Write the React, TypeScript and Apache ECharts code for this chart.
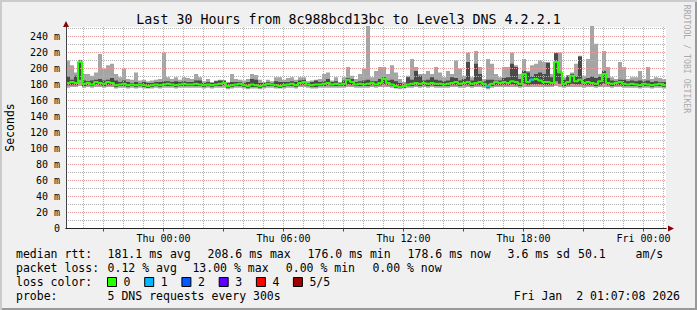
import React, { useEffect, useRef } from 'react';
import * as echarts from 'echarts';

const MONO = '"DejaVu Sans Mono", monospace';

const titleText = 'Last 30 Hours from 8c988bcd13bc to Level3 DNS 4.2.2.1';
const yAxisName = 'Seconds';
const watermarkText = 'RRDTOOL / TOBI OETIKER';

// hours relative to Thu 00:00; first bucket starts Wed 19:07:30, 12-minute buckets
const startHour = -4.875;
const bucketHours = 0.2;

const xLabelValues = [0, 6, 12, 18, 24];
const xLabelTexts = ['Thu 00:00', 'Thu 06:00', 'Thu 12:00', 'Thu 18:00', 'Fri 00:00'];
const yLabelValues = [0, 20, 40, 60, 80, 100, 120, 140, 160, 180, 200, 220, 240];
const yLabelTexts = ['0', '20 m', '40 m', '60 m', '80 m', '100 m', '120 m', '140 m', '160 m', '180 m', '200 m', '220 m', '240 m'];

// ms, one value per 12-minute bucket
const maxRtt = [
  210, 204, 195, 211, 193, 193, 191, 195, 218, 200,
  204, 206, 193, 189, 200, 187, 186, 195, 185, 186,
  184, 185, 186, 187, 220, 189, 187, 189, 186, 189,
  188, 187, 193, 189, 184, 187, 183, 185, 186, 185,
  183, 193, 187, 186, 185, 187, 193, 192, 186, 183,
  186, 184, 189, 189, 186, 188, 189, 186, 189, 189,
  184, 185, 186, 187, 193, 195, 185, 189, 183, 189,
  202, 191, 187, 193, 200, 253, 189, 197, 202, 202,
  193, 204, 195, 187, 183, 191, 212, 202, 193, 193,
  197, 193, 202, 195, 189, 197, 193, 210, 200, 191,
  220, 189, 222, 202, 187, 212, 206, 193, 189, 202,
  202, 220, 204, 193, 212, 197, 204, 206, 210, 208,
  208, 193, 220, 220, 189, 192, 195, 206, 216, 191,
  212, 253, 231, 193, 222, 202, 189, 187, 208, 202,
  187, 189, 189, 197, 187, 202, 187, 189, 188, 187,
];
const p4Rtt = [
  190, 186, 191, 210, 185, 184, 185, 186, 187, 185,
  186, 188, 185, 183, 185, 183, 182, 183, 182, 183,
  182, 182, 183, 183, 184, 184, 183, 184, 183, 184,
  183, 183, 185, 185, 182, 183, 182, 184, 185, 185,
  182, 183, 183, 183, 182, 183, 187, 186, 182, 182,
  183, 182, 184, 183, 183, 183, 184, 183, 185, 186,
  182, 183, 185, 183, 184, 187, 183, 184, 182, 185,
  188, 187, 183, 184, 185, 186, 184, 184, 187, 189,
  185, 186, 184, 182, 181, 189, 186, 197, 191, 185,
  186, 189, 186, 185, 184, 185, 189, 188, 185, 187,
  208, 185, 206, 193, 184, 186, 186, 185, 185, 188,
  189, 206, 202, 187, 197, 195, 190, 193, 195, 193,
  207, 189, 219, 196, 186, 191, 193, 190, 215, 187,
  188, 190, 188, 190, 197, 188, 185, 184, 186, 186,
  184, 185, 184, 185, 184, 185, 183, 184, 183, 183,
];
const medianRtt = [
  182, 183, 182, 208, 181, 182, 180, 183, 182, 181,
  183, 182, 179, 180, 181, 179, 180, 179, 180, 179,
  178, 179, 180, 179, 180, 181, 180, 179, 180, 181,
  180, 180, 181, 180, 179, 180, 179, 180, 181, 182,
  178, 179, 180, 181, 179, 178, 180, 179, 178, 179,
  181, 180, 179, 178, 179, 180, 181, 179, 182, 183,
  180, 179, 180, 180, 181, 182, 180, 181, 180, 181,
  186, 183, 180, 181, 180, 181, 182, 180, 182, 187,
  182, 180, 178, 177, 178, 180, 181, 182, 181, 182,
  181, 182, 181, 181, 180, 181, 182, 183, 181, 182,
  183, 181, 182, 183, 181, 178, 181, 183, 182, 183,
  182, 184, 183, 181, 193, 183, 186, 187, 185, 183,
  183, 182, 208, 195, 181, 183, 191, 184, 186, 182,
  183, 182, 181, 184, 193, 182, 181, 182, 183, 181,
  180, 181, 180, 179, 181, 180, 179, 180, 181, 179,
];
const p2Rtt = [
  179, 179, 179, 186, 178, 179, 178, 180, 179, 178,
  179, 179, 177, 178, 178, 177, 178, 177, 178, 177,
  176, 177, 178, 177, 178, 178, 178, 177, 178, 178,
  178, 178, 178, 178, 177, 178, 177, 178, 178, 179,
  176, 177, 178, 178, 177, 176, 177, 177, 176, 177,
  178, 178, 177, 176, 177, 178, 178, 177, 179, 179,
  178, 177, 177, 178, 178, 179, 178, 178, 178, 178,
  180, 179, 178, 178, 178, 178, 179, 178, 179, 180,
  179, 178, 176, 176, 176, 178, 178, 179, 178, 179,
  178, 179, 178, 178, 178, 178, 179, 179, 178, 179,
  179, 178, 179, 179, 178, 176, 178, 179, 179, 179,
  179, 180, 179, 178, 181, 179, 180, 180, 180, 179,
  179, 179, 184, 181, 178, 179, 181, 180, 180, 179,
  179, 179, 178, 179, 181, 179, 178, 179, 179, 178,
  178, 178, 178, 177, 178, 178, 177, 178, 178, 177,
];
const minRtt = [
  176, 177, 177, 178, 176, 177, 176, 177, 177, 176,
  177, 177, 175, 176, 176, 175, 176, 175, 176, 175,
  175, 175, 176, 175, 176, 176, 176, 175, 176, 176,
  176, 176, 176, 176, 175, 176, 175, 176, 176, 176,
  174, 175, 176, 176, 175, 174, 175, 175, 174, 175,
  176, 176, 175, 175, 175, 176, 176, 175, 177, 177,
  176, 175, 175, 176, 176, 176, 176, 176, 176, 176,
  177, 177, 176, 176, 176, 176, 177, 176, 177, 177,
  177, 176, 175, 174, 175, 176, 176, 177, 176, 177,
  176, 177, 176, 176, 176, 176, 177, 177, 176, 176,
  177, 176, 177, 177, 176, 174, 176, 177, 177, 177,
  177, 177, 177, 176, 177, 177, 177, 177, 177, 177,
  177, 177, 178, 177, 176, 177, 177, 177, 177, 176,
  177, 177, 176, 177, 177, 177, 176, 177, 177, 176,
  176, 176, 176, 175, 176, 176, 175, 176, 176, 175,
];
// buckets with lost pings, and how many were lost
const lossBuckets = [105, 116];
const lossCounts = [1, 1];

const lossLabels = ['0', '1', '2', '3', '4', '5/5'];
const lossColors = ['#26ff00', '#00b8ff', '#0059ff', '#5e00ff', '#ff0000', '#a10000'];

const rttLabel = 'median rtt:';
const rttStats = ['181.1 ms avg', '208.6 ms max', '176.0 ms min', '178.6 ms now', '3.6 ms sd', '50.1', 'am/s'];
const lossLabel = 'packet loss:';
const lossStats = ['0.12 % avg', '13.00 % max', '0.00 % min', '0.00 % now'];
const lossColorLabel = 'loss color:';
const probeLabel = 'probe:';
const probeText = '5 DNS requests every 300s';
const stampText = 'Fri Jan  2 01:07:08 2026';

// layout (pixels)
const L = {
  gridLeft: 66,
  gridRight: 31,
  gridTop: 27,
  gridBottom: 81.5,
  rowY: [254.3, 268.3, 282.3, 296.3],
  labelX: 16,
  rttX: [107.6, 207.6, 307.6, 407.6, 507.6, 578, 635.6],
  lossX: [107.6, 192.4, 285.8, 372.4],
  boxX: [107.5, 144.7, 181.9, 219.2, 256.4, 293.4],
  stampRight: 680,
};

export default function App() {
  const ref = useRef<HTMLDivElement>(null);

  useEffect(() => {
    if (!ref.current) return;
    const chart = echarts.init(ref.current, undefined, { renderer: 'svg' });

    const n = maxRtt.length;
    const endHour = startHour + bucketHours * n;
    const plotHeight = 310 - L.gridTop - L.gridBottom;
    const yMax = plotHeight / 0.8;
    const xAt = (i: number) => startHour + bucketHours * i;
    const stepped = (vals: number[]) =>
      vals.map((v, i) => [xAt(i), v]).concat([[endHour, vals[n - 1]]]);

    const minorColor = '#b0b0b0';
    const majorColor = '#e29a9a';
    const dotted = (color: string) => ({ color, type: [1, 1], width: 1 });
    const hLine = (v: number, color: string) => [
      { coord: [startHour, v], lineStyle: dotted(color) },
      { coord: [endHour, v] },
    ];
    const hGrid: any[] = [];
    for (let v = 10; v < yMax; v += 20) hGrid.push(hLine(v, minorColor));
    for (let v = 20; v < yMax; v += 20) hGrid.push(hLine(v, majorColor));

    const majorHours: number[] = [];
    const gridHours: number[][] = [];
    for (let h = Math.ceil(startHour); h <= endHour; h++) {
      const isMajor = h % 3 === 0 ? 1 : 0;
      if (isMajor) majorHours.push(h);
      gridHours.push([h, isMajor]);
    }

    const common = {
      type: 'line',
      step: 'end',
      symbol: 'none',
      showSymbol: false,
      silent: true,
      animation: false,
      xAxisIndex: 0,
      yAxisIndex: 0,
    };
    const area = (name: string, vals: number[], color: string, z: number) => ({
      ...common,
      name,
      z,
      data: stepped(vals),
      lineStyle: { opacity: 0 },
      areaStyle: { color, opacity: 1, origin: 'start' },
    });

    const text = (t: string, x: number, y: number, extra: any = {}) => ({
      type: 'text',
      x,
      y,
      silent: true,
      style: {
        text: t,
        fill: '#000',
        fontFamily: MONO,
        fontSize: 11.5,
        align: 'left',
        verticalAlign: 'middle',
        ...extra,
      },
    });

    const graphics: any[] = [
      text(titleText, 348.5, 19.3, { fontSize: 13.3, align: 'center' }),
      { ...text(yAxisName, 10, 127.5, { align: 'center' }), rotation: Math.PI / 2 },
      { ...text(watermarkText, 686.5, 59, { align: 'center', fontSize: 8.2, fill: '#aaaaaa' }), rotation: -Math.PI / 2 },
      text(rttLabel, L.labelX, L.rowY[0]),
      ...rttStats.map((s, i) => text(s, L.rttX[i], L.rowY[0])),
      text(lossLabel, L.labelX, L.rowY[1]),
      ...lossStats.map((s, i) => text(s, L.lossX[i], L.rowY[1])),
      text(lossColorLabel, L.labelX, L.rowY[2]),
      ...lossLabels.map((s, i) => ({
        type: 'rect',
        silent: true,
        shape: { x: L.boxX[i], y: L.rowY[2] - 4.8, width: 9, height: 9 },
        style: { fill: lossColors[i], stroke: '#000', lineWidth: 1 },
      })),
      ...lossLabels.map((s, i) => text(s, L.boxX[i] + 16, L.rowY[2])),
      text(probeLabel, L.labelX, L.rowY[3]),
      text(probeText, L.rttX[0], L.rowY[3]),
      text(stampText, L.stampRight, L.rowY[3], { align: 'right' }),
    ];

    chart.setOption({
      animation: false,
      backgroundColor: 'transparent',
      grid: {
        left: L.gridLeft,
        right: L.gridRight,
        top: L.gridTop,
        bottom: L.gridBottom,
        show: true,
        backgroundColor: '#ffffff',
        borderWidth: 0,
        containLabel: false,
        outerBoundsMode: 'none',
      },
      xAxis: [
        {
          type: 'value',
          min: startHour,
          max: endHour,
          position: 'bottom',
          z: 20,
          axisLine: { show: true, onZero: false, lineStyle: { color: '#222', width: 1 } },
          axisTick: { show: true, customValues: majorHours, length: 3, lineStyle: { color: '#ff0000' } },
          axisLabel: {
            customValues: xLabelValues,
            formatter: (v: number) => xLabelTexts[xLabelValues.indexOf(v)] ?? '',
            fontFamily: MONO,
            fontSize: 10,
            color: '#000',
            margin: 5,
          },
          splitLine: { show: false },
        },
        {
          type: 'value',
          min: startHour,
          max: endHour,
          position: 'bottom',
          z: 19,
          axisLine: {
            show: true,
            onZero: false,
            symbol: ['none', 'triangle'],
            symbolSize: [6, 6],
            symbolOffset: [0, 5],
            lineStyle: { color: '#8b0000' },
          },
          axisTick: { show: false },
          axisLabel: { show: false },
          splitLine: { show: false },
        },
      ],
      yAxis: [
        {
          type: 'value',
          min: 0,
          max: yMax,
          position: 'left',
          z: 20,
          axisLine: { show: true, onZero: false, lineStyle: { color: '#444', width: 1 } },
          axisTick: { show: false },
          axisLabel: {
            customValues: yLabelValues,
            formatter: (v: number) => yLabelTexts[yLabelValues.indexOf(v)] ?? '',
            fontFamily: MONO,
            fontSize: 10,
            color: '#000',
            margin: 6,
          },
          splitLine: { show: false },
        },
        {
          type: 'value',
          min: 0,
          max: yMax,
          position: 'left',
          z: 19,
          axisLine: {
            show: true,
            onZero: false,
            symbol: ['none', 'triangle'],
            symbolSize: [6, 6],
            symbolOffset: [0, 3],
            lineStyle: { color: '#8b0000' },
          },
          axisTick: { show: false },
          axisLabel: { show: false },
          splitLine: { show: false },
        },
      ],
      series: [
        area('max', maxRtt, '#a5a5a5', 2),
        area('p4', p4Rtt, '#4a4a4a', 3),
        area('p2', p2Rtt, '#a5a5a5', 4),
        area('min', minRtt, '#ffffff', 5),
        {
          ...common,
          name: 'hgrid',
          z: 10,
          data: stepped(minRtt),
          lineStyle: { opacity: 0 },
          markLine: {
            z: 10,
            silent: true,
            animation: false,
            symbol: ['none', 'none'],
            label: { show: false },
            emphasis: { disabled: true },
            data: hGrid,
          },
        },
        {
          type: 'custom',
          name: 'vgrid',
          z: 11,
          silent: true,
          animation: false,
          xAxisIndex: 0,
          yAxisIndex: 0,
          data: gridHours,
          encode: { x: 0 },
          renderItem: (params: any, api: any) => {
            const h = api.value(0);
            const bottom = api.coord([h, 0]);
            const top = api.coord([h, yMax]);
            const px = Math.floor(bottom[0]);
            const color = api.value(1) ? majorColor : minorColor;
            const children: any[] = [];
            for (let y = Math.ceil(top[1]); y < bottom[1] - 1; y += 2) {
              children.push({
                type: 'rect',
                silent: true,
                shape: { x: px, y, width: 1, height: 1 },
                style: { fill: color },
              });
            }
            return { type: 'group', children };
          },
        },
        {
          ...common,
          name: 'median',
          z: 12,
          data: stepped(medianRtt),
          lineStyle: { color: lossColors[0], width: 2 },
        },
        {
          type: 'scatter',
          name: 'loss',
          silent: true,
          animation: false,
          z: 13,
          symbol: 'rect',
          symbolSize: [4, 2.5],
          data: lossBuckets.map((b, k) => ({
            value: [xAt(b) + bucketHours / 2, medianRtt[b]],
            itemStyle: { color: lossColors[lossCounts[k]] },
          })),
        },
      ],
      graphic: graphics,
    });

    return () => chart.dispose();
  }, []);

  return (
    <div
      style={{
        position: 'fixed',
        left: 0,
        top: 0,
        width: 697,
        height: 310,
        background: '#f0f0f0',
        boxShadow: 'inset 2px 2px 0 #cbcbcb, inset -2px -2px 0 #999999',
      }}
    >
      <div ref={ref} style={{ position: 'absolute', left: 0, top: 0, width: 697, height: 310 }} />
    </div>
  );
}
